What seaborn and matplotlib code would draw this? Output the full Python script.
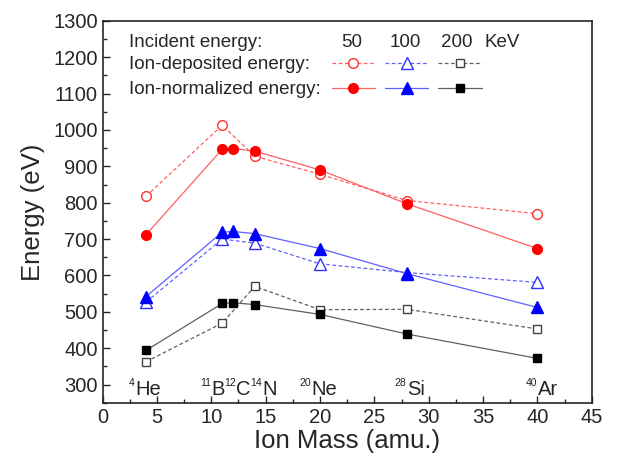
import matplotlib
matplotlib.use("Agg")
import matplotlib.pyplot as plt
import seaborn as sns
from matplotlib.ticker import MultipleLocator

# ion masses (amu)
mass_dep = [4, 11, 14, 20, 28, 40]
mass_norm = [4, 11, 12, 14, 20, 28, 40]

# ion-deposited energy (eV), open markers
dep_50 = [818, 1013, 928, 878, 806, 770]
dep_100 = [527, 700, 689, 632, 608, 581]
dep_200 = [363, 469, 570, 506, 507, 453]

# ion-normalized energy (eV), filled markers
norm_50 = [712, 947, 949, 942, 890, 797, 674]
norm_100 = [542, 719, 721, 715, 674, 605, 512]
norm_200 = [394, 523, 525, 520, 493, 439, 372]

# isotope labels along the bottom
ion_symbols = ["He", "B", "C", "N", "Ne", "Si", "Ar"]
ion_mass_numbers = ["4", "11", "12", "14", "20", "28", "40"]
ion_label_x = [3.0, 10.0, 12.3, 14.7, 19.25, 28.0, 40.0]
energies = ["50", "100", "200"]

sns.set_style("ticks")
plt.rcParams["font.family"] = ["Liberation Sans", "DejaVu Sans"]

fig = plt.figure(figsize=(6.33, 4.63), dpi=100)
ax = fig.add_axes([0.162, 0.13, 0.773, 0.825])

colors = ["#ff0000", "#0000ff", "#000000"]
line_colors = ["#ff6060", "#6060ff", "#606060"]
open_edge = ["#ff3030", "#3030ff", "#444444"]
markers = ["o", "^", "s"]
msizes = [7, 8, 5.5]

dep_handles = []
norm_handles = []
for dep, norm, c, lc, ec, m, ms in zip([dep_50, dep_100, dep_200], [norm_50, norm_100, norm_200],
                                       colors, line_colors, open_edge, markers, msizes):
    sns.lineplot(x=mass_dep, y=dep, ax=ax, color=lc, linestyle=(0, (3, 2)), linewidth=0.9,
                 marker=m, markersize=ms, markerfacecolor="white", markeredgecolor=ec,
                 markeredgewidth=1.0)
    dep_handles.append(ax.lines[-1])
    sns.lineplot(x=mass_norm, y=norm, ax=ax, color=lc, linestyle="-", linewidth=0.9,
                 marker=m, markersize=ms, markerfacecolor=c, markeredgecolor=c,
                 markeredgewidth=1.0)
    norm_handles.append(ax.lines[-1])

for sym, num, xs in zip(ion_symbols, ion_mass_numbers, ion_label_x):
    ax.text(xs, 272, sym, ha="left", va="baseline", fontsize=14.5)
    ax.annotate(num, (xs, 272), xytext=(-0.3, 6.5), textcoords="offset points",
                ha="right", va="baseline", fontsize=7.5, color="#222222")

ax.set_xlim(0, 45)
ax.set_ylim(250, 1300)
ax.xaxis.set_major_locator(MultipleLocator(5))
ax.xaxis.set_minor_locator(MultipleLocator(2.5))
ax.yaxis.set_major_locator(MultipleLocator(100))
ax.yaxis.set_minor_locator(MultipleLocator(50))
ax.yaxis.set_major_formatter(matplotlib.ticker.FuncFormatter(lambda v, p: f"{v:.0f}" if v >= 300 else ""))
ax.tick_params(which="major", direction="in", length=5, width=1, labelsize=14.5)
ax.tick_params(which="minor", direction="in", length=3, width=1)
for s in ax.spines.values():
    s.set_linewidth(1.2)
ax.set_xlabel("Ion Mass (amu.)", fontsize=18.5, labelpad=2)
ax.set_ylabel("Energy (eV)", fontsize=18.5, labelpad=6)

# legend block
ax.text(0.055, 0.942, "Incident energy:", transform=ax.transAxes, fontsize=13.5, va="center")
for e, xp in zip(energies, [0.509, 0.618, 0.724]):
    ax.text(xp, 0.942, e, transform=ax.transAxes, fontsize=13.5, va="center", ha="center")
ax.text(0.816, 0.942, "KeV", transform=ax.transAxes, fontsize=13.5, va="center", ha="center")
ax.text(0.055, 0.885, "Ion-deposited energy:", transform=ax.transAxes, fontsize=13.5, va="center")
ax.text(0.055, 0.819, "Ion-normalized energy:", transform=ax.transAxes, fontsize=13.5, va="center")

leg1 = ax.legend(dep_handles, ["", "", ""], ncol=3, frameon=False, loc="center left",
                 bbox_to_anchor=(0.468, 0.885), handlelength=2.3, handletextpad=0,
                 columnspacing=0.55, borderpad=0, borderaxespad=0, fontsize=13.5)
ax.add_artist(leg1)
ax.legend(norm_handles, ["", "", ""], ncol=3, frameon=False, loc="center left",
          bbox_to_anchor=(0.468, 0.819), handlelength=2.3, handletextpad=0,
          columnspacing=0.55, borderpad=0, borderaxespad=0, fontsize=13.5)

fig.savefig("out.png", dpi=100)
